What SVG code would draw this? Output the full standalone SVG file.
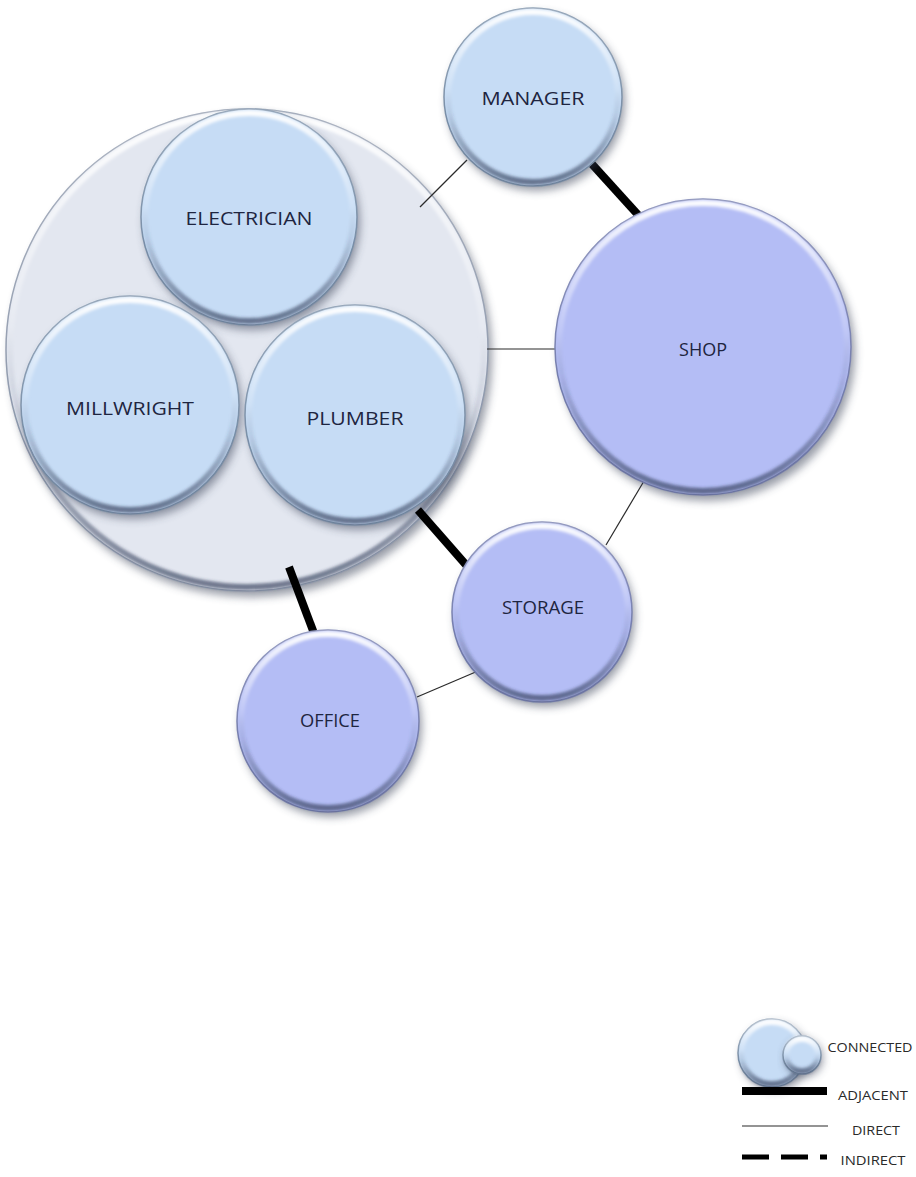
<svg xmlns="http://www.w3.org/2000/svg" width="916" height="1177" viewBox="0 0 916 1177">
  <style>
    .label { font-family: "Open Sans", "Liberation Sans", sans-serif; font-size: 19px; fill: #1e2540; text-anchor: middle; dominant-baseline: central; }
    .legend-label { font-family: "Open Sans", "Liberation Sans", sans-serif; font-size: 12px; fill: #2a2a2a; text-anchor: middle; dominant-baseline: central; }
    .shadow { fill: #363e52; opacity: 0.5; filter: url(#soft); }
    .body-blue { fill: #c6dcf5; stroke: #7d92aa; stroke-width: 1.5; }
    .body-violet { fill: #b4bdf5; stroke: #7880b0; stroke-width: 1.5; }
    .body-grey { fill: #e3e7f0; stroke: #949eb0; stroke-width: 1.5; }
    .rim { fill: none; stroke: url(#rimShade); stroke-width: 6; filter: url(#rimBlur); }
    .thick { stroke: #000; stroke-width: 8; stroke-linecap: butt; fill: none; }
    .thin { stroke: #2a2a2a; stroke-width: 1.2; fill: none; }
  </style>
  <defs>
    <filter id="soft" x="-20%" y="-20%" width="140%" height="140%">
      <feGaussianBlur stdDeviation="4"/>
    </filter>
    <filter id="rimBlur" x="-10%" y="-10%" width="120%" height="120%">
      <feGaussianBlur stdDeviation="1.6"/>
    </filter>
    <!-- bevel: light band along the top edge, darker band along the bottom -->
    <linearGradient id="rimShade" x1="0" y1="0" x2="0" y2="1">
      <stop offset="0" stop-color="#ffffff" stop-opacity="0.95"/>
      <stop offset="0.45" stop-color="#ffffff" stop-opacity="0.15"/>
      <stop offset="0.6" stop-color="#2f3b58" stop-opacity="0.1"/>
      <stop offset="1" stop-color="#2f3b58" stop-opacity="0.65"/>
    </linearGradient>
  </defs>

  <rect width="916" height="1177" fill="#ffffff"/>

  <!-- shared trades zone -->
  <g id="trades">
    <circle class="shadow" cx="251" cy="356" r="241"/>
    <circle class="body-grey" cx="247" cy="350" r="241"/>
    <circle class="rim" cx="247" cy="350" r="237"/>

    <g id="electrician">
      <circle class="shadow" cx="252" cy="222" r="108"/>
      <circle class="body-blue" cx="249" cy="217" r="108"/>
      <circle class="rim" cx="249" cy="217" r="104"/>
      <text class="label" x="249" y="218" textLength="127" lengthAdjust="spacingAndGlyphs">ELECTRICIAN</text>
    </g>

    <g id="millwright">
      <circle class="shadow" cx="133" cy="410" r="109"/>
      <circle class="body-blue" cx="130" cy="405" r="109"/>
      <circle class="rim" cx="130" cy="405" r="105"/>
      <text class="label" x="130" y="408" textLength="128" lengthAdjust="spacingAndGlyphs">MILLWRIGHT</text>
    </g>

    <g id="plumber">
      <circle class="shadow" cx="358" cy="420" r="110"/>
      <circle class="body-blue" cx="355" cy="415" r="110"/>
      <circle class="rim" cx="355" cy="415" r="106"/>
      <text class="label" x="355" y="418" textLength="97" lengthAdjust="spacingAndGlyphs">PLUMBER</text>
    </g>
  </g>

  <!-- relationships -->
  <g id="connectors">
    <line class="thin" x1="420" y1="207" x2="467" y2="160"/>
    <line class="thick" x1="591" y1="163" x2="640" y2="217"/>
    <line class="thin" x1="487" y1="349" x2="555" y2="349"/>
    <line class="thin" x1="644" y1="481" x2="606" y2="545"/>
    <line class="thick" x1="418" y1="510" x2="467" y2="566"/>
    <line class="thick" x1="289" y1="567" x2="315" y2="636"/>
    <line class="thin" x1="478" y1="671" x2="417" y2="697"/>
  </g>

  <g id="manager">
    <circle class="shadow" cx="536" cy="102" r="89"/>
    <circle class="body-blue" cx="533" cy="97" r="89"/>
    <circle class="rim" cx="533" cy="97" r="85"/>
    <text class="label" x="533" y="98" textLength="103" lengthAdjust="spacingAndGlyphs">MANAGER</text>
  </g>

  <g id="shop">
    <circle class="shadow" cx="707" cy="353" r="148"/>
    <circle class="body-violet" cx="703" cy="347" r="148"/>
    <circle class="rim" cx="703" cy="347" r="144"/>
    <text class="label" x="703" y="349" textLength="48" lengthAdjust="spacingAndGlyphs">SHOP</text>
  </g>

  <g id="storage">
    <circle class="shadow" cx="545" cy="617" r="90"/>
    <circle class="body-violet" cx="542" cy="612" r="90"/>
    <circle class="rim" cx="542" cy="612" r="86"/>
    <text class="label" x="543" y="607" textLength="82" lengthAdjust="spacingAndGlyphs">STORAGE</text>
  </g>

  <g id="office">
    <circle class="shadow" cx="331" cy="726" r="91"/>
    <circle class="body-violet" cx="328" cy="721" r="91"/>
    <circle class="rim" cx="328" cy="721" r="87"/>
    <text class="label" x="330" y="720" textLength="60" lengthAdjust="spacingAndGlyphs">OFFICE</text>
  </g>

  <!-- key -->
  <g id="legend">
    <g id="legend-connected">
      <circle class="shadow" cx="775" cy="1057" r="34"/>
      <circle class="body-blue" cx="772" cy="1053" r="34"/>
      <circle class="rim" cx="772" cy="1053" r="31"/>
      <circle class="shadow" cx="804" cy="1058" r="19"/>
      <circle class="body-blue" cx="802" cy="1055" r="19"/>
      <circle class="rim" cx="802" cy="1055" r="16"/>
      <text class="legend-label" x="870" y="1047" textLength="85" lengthAdjust="spacingAndGlyphs">CONNECTED</text>
    </g>
    <g id="legend-adjacent">
      <line x1="742" y1="1091" x2="827" y2="1091" stroke="#000" stroke-width="8"/>
      <text class="legend-label" x="873" y="1095" textLength="70" lengthAdjust="spacingAndGlyphs">ADJACENT</text>
    </g>
    <g id="legend-direct">
      <line x1="742" y1="1126" x2="828" y2="1126" stroke="#2a2a2a" stroke-width="1.2"/>
      <text class="legend-label" x="876" y="1130" textLength="48" lengthAdjust="spacingAndGlyphs">DIRECT</text>
    </g>
    <g id="legend-indirect">
      <line x1="742" y1="1157" x2="827" y2="1157" stroke="#000" stroke-width="5" stroke-dasharray="27 12"/>
      <text class="legend-label" x="873" y="1160" textLength="65" lengthAdjust="spacingAndGlyphs">INDIRECT</text>
    </g>
  </g>
</svg>
